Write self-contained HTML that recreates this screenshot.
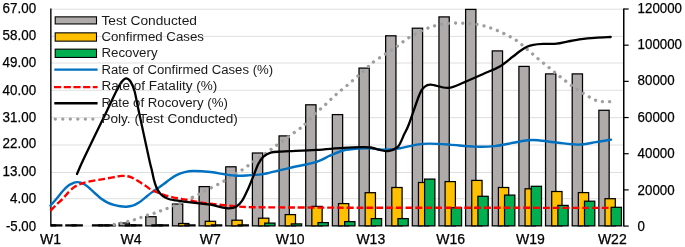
<!DOCTYPE html>
<html><head><meta charset="utf-8"><title>Chart</title>
<style>html,body{margin:0;padding:0;background:#fff}svg{display:block}</style></head>
<body>
<svg width="685" height="247" viewBox="0 0 685 247" font-family="&quot;Liberation Sans&quot;, sans-serif">
<defs><clipPath id="plot"><rect x="50.8" y="0" width="573.1" height="227.04999999999998"/></clipPath><clipPath id="plot2"><rect x="50.8" y="0" width="573.1" height="226"/></clipPath></defs>
<rect width="685" height="247" fill="#fff"/>
<line x1="50.8" y1="9.2" x2="623.9" y2="9.2" stroke="#D9D9D9" stroke-width="0.85"/>
<line x1="50.8" y1="36.4" x2="623.9" y2="36.4" stroke="#D9D9D9" stroke-width="0.85"/>
<line x1="50.8" y1="63.0" x2="623.9" y2="63.0" stroke="#D9D9D9" stroke-width="0.85"/>
<line x1="50.8" y1="90.3" x2="623.9" y2="90.3" stroke="#D9D9D9" stroke-width="0.85"/>
<line x1="50.8" y1="117.6" x2="623.9" y2="117.6" stroke="#D9D9D9" stroke-width="0.85"/>
<line x1="50.8" y1="145.0" x2="623.9" y2="145.0" stroke="#D9D9D9" stroke-width="0.85"/>
<line x1="50.8" y1="172.5" x2="623.9" y2="172.5" stroke="#D9D9D9" stroke-width="0.85"/>
<line x1="50.8" y1="198.7" x2="623.9" y2="198.7" stroke="#D9D9D9" stroke-width="0.85"/>
<line x1="50.8" y1="226.0" x2="623.9" y2="226.0" stroke="#D9D9D9" stroke-width="0.85"/>
<g clip-path="url(#plot)" stroke="#000" stroke-width="1.25">
<line x1="38.60" y1="225.4" x2="50.10" y2="225.4" stroke-width="2.2"/>
<line x1="44.75" y1="225.4" x2="56.25" y2="225.4" stroke-width="2.2"/>
<line x1="50.90" y1="225.4" x2="62.40" y2="225.4" stroke-width="2.2"/>
<line x1="65.25" y1="225.4" x2="76.75" y2="225.4" stroke-width="2.2"/>
<line x1="71.40" y1="225.4" x2="82.90" y2="225.4" stroke-width="2.2"/>
<line x1="91.90" y1="225.4" x2="103.40" y2="225.4" stroke-width="2.2"/>
<line x1="98.05" y1="225.4" x2="109.55" y2="225.4" stroke-width="2.2"/>
<line x1="104.20" y1="225.4" x2="115.70" y2="225.4" stroke-width="2.2"/>
<rect x="119.15" y="223.00" width="10.3" height="2.85" fill="#AFABAB"/>
<rect x="125.30" y="224.80" width="10.3" height="1.05" fill="#FFC000"/>
<line x1="130.85" y1="225.4" x2="142.35" y2="225.4" stroke-width="2.2"/>
<rect x="145.80" y="216.70" width="10.3" height="9.15" fill="#AFABAB"/>
<line x1="151.35" y1="225.4" x2="162.85" y2="225.4" stroke-width="2.2"/>
<line x1="157.50" y1="225.4" x2="169.00" y2="225.4" stroke-width="2.2"/>
<rect x="172.45" y="204.00" width="10.3" height="21.85" fill="#AFABAB"/>
<rect x="178.60" y="223.50" width="10.3" height="2.35" fill="#FFC000"/>
<line x1="184.15" y1="225.4" x2="195.65" y2="225.4" stroke-width="2.2"/>
<rect x="199.10" y="186.60" width="10.3" height="39.25" fill="#AFABAB"/>
<rect x="205.25" y="221.30" width="10.3" height="4.55" fill="#FFC000"/>
<line x1="210.80" y1="225.4" x2="222.30" y2="225.4" stroke-width="2.2"/>
<rect x="225.75" y="166.80" width="10.3" height="59.05" fill="#AFABAB"/>
<rect x="231.90" y="220.20" width="10.3" height="5.65" fill="#FFC000"/>
<line x1="237.45" y1="225.4" x2="248.95" y2="225.4" stroke-width="2.2"/>
<rect x="252.40" y="153.00" width="10.3" height="72.85" fill="#AFABAB"/>
<rect x="258.55" y="218.20" width="10.3" height="7.65" fill="#FFC000"/>
<rect x="264.70" y="223.10" width="10.3" height="2.75" fill="#00B050"/>
<rect x="279.05" y="135.90" width="10.3" height="89.95" fill="#AFABAB"/>
<rect x="285.20" y="214.60" width="10.3" height="11.25" fill="#FFC000"/>
<rect x="291.35" y="223.90" width="10.3" height="1.95" fill="#00B050"/>
<rect x="305.70" y="104.80" width="10.3" height="121.05" fill="#AFABAB"/>
<rect x="311.85" y="206.40" width="10.3" height="19.45" fill="#FFC000"/>
<rect x="318.00" y="222.60" width="10.3" height="3.25" fill="#00B050"/>
<rect x="332.35" y="114.60" width="10.3" height="111.25" fill="#AFABAB"/>
<rect x="338.50" y="203.60" width="10.3" height="22.25" fill="#FFC000"/>
<rect x="344.65" y="221.60" width="10.3" height="4.25" fill="#00B050"/>
<rect x="359.00" y="68.10" width="10.3" height="157.75" fill="#AFABAB"/>
<rect x="365.15" y="192.70" width="10.3" height="33.15" fill="#FFC000"/>
<rect x="371.30" y="218.60" width="10.3" height="7.25" fill="#00B050"/>
<rect x="385.65" y="35.80" width="10.3" height="190.05" fill="#AFABAB"/>
<rect x="391.80" y="187.50" width="10.3" height="38.35" fill="#FFC000"/>
<rect x="397.95" y="218.60" width="10.3" height="7.25" fill="#00B050"/>
<rect x="412.30" y="28.20" width="10.3" height="197.65" fill="#AFABAB"/>
<rect x="418.45" y="182.50" width="10.3" height="43.35" fill="#FFC000"/>
<rect x="424.60" y="179.10" width="10.3" height="46.75" fill="#00B050"/>
<rect x="438.95" y="16.90" width="10.3" height="208.95" fill="#AFABAB"/>
<rect x="445.10" y="181.60" width="10.3" height="44.25" fill="#FFC000"/>
<rect x="451.25" y="207.70" width="10.3" height="18.15" fill="#00B050"/>
<rect x="465.60" y="9.40" width="10.3" height="216.45" fill="#AFABAB"/>
<rect x="471.75" y="180.40" width="10.3" height="45.45" fill="#FFC000"/>
<rect x="477.90" y="196.30" width="10.3" height="29.55" fill="#00B050"/>
<rect x="492.25" y="50.90" width="10.3" height="174.95" fill="#AFABAB"/>
<rect x="498.40" y="187.50" width="10.3" height="38.35" fill="#FFC000"/>
<rect x="504.55" y="195.10" width="10.3" height="30.75" fill="#00B050"/>
<rect x="518.90" y="66.40" width="10.3" height="159.45" fill="#AFABAB"/>
<rect x="525.05" y="188.80" width="10.3" height="37.05" fill="#FFC000"/>
<rect x="531.20" y="186.30" width="10.3" height="39.55" fill="#00B050"/>
<rect x="545.55" y="73.90" width="10.3" height="151.95" fill="#AFABAB"/>
<rect x="551.70" y="191.50" width="10.3" height="34.35" fill="#FFC000"/>
<rect x="557.85" y="205.40" width="10.3" height="20.45" fill="#00B050"/>
<rect x="572.20" y="73.90" width="10.3" height="151.95" fill="#AFABAB"/>
<rect x="578.35" y="192.60" width="10.3" height="33.25" fill="#FFC000"/>
<rect x="584.50" y="201.20" width="10.3" height="24.65" fill="#00B050"/>
<rect x="598.85" y="110.30" width="10.3" height="115.55" fill="#AFABAB"/>
<rect x="605.00" y="198.70" width="10.3" height="27.15" fill="#FFC000"/>
<rect x="611.15" y="207.30" width="10.3" height="18.55" fill="#00B050"/>
</g>
<line x1="50.85" y1="8.5" x2="50.85" y2="226.5" stroke="#000" stroke-width="1.4"/>
<line x1="623.75" y1="8.5" x2="623.75" y2="226.6" stroke="#000" stroke-width="1.5"/>
<line x1="623.9" y1="9.00" x2="628.6999999999999" y2="9.00" stroke="#000" stroke-width="1.2"/>
<line x1="623.9" y1="45.18" x2="628.6999999999999" y2="45.18" stroke="#000" stroke-width="1.2"/>
<line x1="623.9" y1="81.36" x2="628.6999999999999" y2="81.36" stroke="#000" stroke-width="1.2"/>
<line x1="623.9" y1="117.54" x2="628.6999999999999" y2="117.54" stroke="#000" stroke-width="1.2"/>
<line x1="623.9" y1="153.72" x2="628.6999999999999" y2="153.72" stroke="#000" stroke-width="1.2"/>
<line x1="623.9" y1="189.90" x2="628.6999999999999" y2="189.90" stroke="#000" stroke-width="1.2"/>
<line x1="623.9" y1="226.08" x2="628.6999999999999" y2="226.08" stroke="#000" stroke-width="1.2"/>
<g fill="none" stroke="#9E9E9E" stroke-width="3.3" stroke-linecap="round" stroke-dasharray="0.01 7.1" clip-path="url(#plot2)"><path d="M192.40,197.50 C191.28,197.97 187.77,199.35 185.70,200.30 C183.63,201.25 181.80,202.32 180.00,203.20 C178.20,204.08 177.00,204.75 174.90,205.60 C172.80,206.45 169.77,207.43 167.40,208.30 C165.03,209.17 162.92,209.97 160.70,210.80 C158.48,211.63 156.32,212.57 154.10,213.30 C151.88,214.03 149.62,214.50 147.40,215.20 C145.18,215.90 142.88,216.77 140.80,217.50 C138.72,218.23 137.03,218.95 134.90,219.60 C132.77,220.25 130.32,220.80 128.00,221.40 C125.68,222.00 123.50,222.67 121.00,223.20 C118.50,223.73 114.33,224.37 113.00,224.60" stroke-dasharray="0.01 6.9"/><path d="M192.40,197.50 C193.55,196.93 197.13,195.25 199.30,194.10 C201.47,192.95 202.40,192.17 205.40,190.60 C208.40,189.03 214.23,186.27 217.30,184.70 C220.37,183.13 221.63,182.52 223.80,181.20 C225.97,179.88 227.20,178.72 230.30,176.80 C233.40,174.88 238.63,172.13 242.40,169.70 C246.17,167.27 249.22,164.78 252.90,162.20 C256.58,159.62 260.73,156.88 264.50,154.20 C268.27,151.52 271.73,148.83 275.50,146.10 C279.27,143.37 283.28,140.57 287.10,137.80 C290.92,135.03 295.60,131.58 298.40,129.50 C301.20,127.42 301.18,127.88 303.90,125.30 C306.62,122.72 311.13,117.43 314.70,114.00 C318.27,110.57 321.78,107.92 325.30,104.70 C328.82,101.48 332.27,97.83 335.80,94.70 C339.33,91.57 342.62,89.17 346.50,85.90 C350.38,82.63 355.33,78.45 359.10,75.10 C362.87,71.75 366.58,68.08 369.10,65.80 C371.62,63.52 371.47,63.37 374.20,61.40 C376.93,59.43 381.73,56.48 385.50,54.00 C389.27,51.52 392.92,49.22 396.80,46.50 C400.68,43.78 404.62,40.33 408.80,37.70 C412.98,35.07 417.62,32.67 421.90,30.70 C426.18,28.73 430.23,27.12 434.50,25.90 C438.77,24.68 442.90,23.87 447.50,23.40 C452.10,22.93 457.15,22.93 462.10,23.10 C467.05,23.27 472.38,23.57 477.20,24.40 C482.02,25.23 486.62,26.60 491.00,28.10 C495.38,29.60 499.32,31.38 503.50,33.40 C507.68,35.42 512.22,37.60 516.10,40.20 C519.98,42.80 523.22,45.98 526.80,49.00 C530.38,52.02 533.92,55.22 537.60,58.30 C541.28,61.38 545.17,64.45 548.90,67.50 C552.63,70.55 556.15,73.53 560.00,76.60 C563.85,79.67 568.10,83.10 572.00,85.90 C575.90,88.70 579.50,91.02 583.40,93.40 C587.30,95.78 592.27,98.82 595.40,100.20 C598.53,101.58 599.60,101.47 602.20,101.70 C604.80,101.93 609.53,101.62 611.00,101.60"/></g>
<path d="M50.50,205.50 C51.47,204.42 54.28,201.38 56.30,199.00 C58.32,196.62 60.52,193.48 62.60,191.20 C64.68,188.92 66.92,186.72 68.80,185.30 C70.68,183.88 72.50,183.23 73.90,182.70 C75.30,182.17 75.95,182.08 77.20,182.10 C78.45,182.12 79.87,182.22 81.40,182.80 C82.93,183.38 84.52,184.20 86.40,185.60 C88.28,187.00 90.22,189.00 92.70,191.20 C95.18,193.40 98.82,196.90 101.30,198.80 C103.78,200.70 105.52,201.58 107.60,202.60 C109.68,203.62 111.72,204.28 113.80,204.90 C115.88,205.52 118.00,206.00 120.10,206.30 C122.20,206.60 124.30,206.80 126.40,206.70 C128.50,206.60 130.62,206.38 132.70,205.70 C134.78,205.02 136.82,203.95 138.90,202.60 C140.98,201.25 143.10,199.27 145.20,197.60 C147.30,195.93 149.40,194.17 151.50,192.60 C153.60,191.03 155.70,189.67 157.80,188.20 C159.90,186.73 161.95,185.38 164.10,183.80 C166.25,182.22 168.55,180.20 170.70,178.70 C172.85,177.20 174.80,175.87 177.00,174.80 C179.20,173.73 181.22,172.93 183.90,172.30 C186.58,171.67 188.67,171.05 193.10,171.00 C197.53,170.95 205.05,171.42 210.50,172.00 C215.95,172.58 221.53,173.88 225.80,174.50 C230.07,175.12 232.68,175.53 236.10,175.70 C239.52,175.87 241.88,175.77 246.30,175.50 C250.72,175.23 258.53,174.62 262.60,174.10 C266.67,173.58 266.12,173.43 270.70,172.40 C275.28,171.37 282.45,169.67 290.10,167.90 C297.75,166.13 309.97,163.83 316.60,161.80 C323.23,159.77 325.47,157.58 329.90,155.70 C334.33,153.82 338.43,151.70 343.20,150.50 C347.97,149.30 353.90,148.87 358.50,148.50 C363.10,148.13 366.93,148.12 370.80,148.30 C374.67,148.48 377.17,149.55 381.70,149.60 C386.23,149.65 392.13,149.43 398.00,148.60 C403.87,147.77 411.67,145.43 416.90,144.60 C422.13,143.77 423.97,143.60 429.40,143.60 C434.83,143.60 441.97,144.10 449.50,144.60 C457.03,145.10 467.07,146.35 474.60,146.60 C482.13,146.85 488.30,146.73 494.70,146.10 C501.10,145.47 507.45,143.77 513.00,142.80 C518.55,141.83 523.83,140.72 528.00,140.30 C532.17,139.88 532.97,139.88 538.00,140.30 C543.03,140.72 551.48,142.08 558.20,142.80 C564.92,143.52 572.00,144.72 578.30,144.60 C584.60,144.48 590.55,142.93 596.00,142.10 C601.45,141.27 608.50,140.02 611.00,139.60" fill="none" stroke="#0070C0" stroke-width="2.4" stroke-linecap="round" stroke-linejoin="round"/>
<path d="M50.50,210.80 C51.42,209.83 53.98,206.97 56.00,205.00 C58.02,203.03 60.47,201.18 62.60,199.00 C64.73,196.82 66.72,193.97 68.80,191.90 C70.88,189.83 73.00,187.97 75.10,186.60 C77.20,185.23 79.30,184.50 81.40,183.70 C83.50,182.90 84.57,182.48 87.70,181.80 C90.83,181.12 96.02,180.33 100.20,179.60 C104.38,178.87 109.23,178.02 112.80,177.40 C116.37,176.78 119.10,176.08 121.60,175.90 C124.10,175.72 126.07,176.02 127.80,176.30 C129.53,176.58 130.57,176.98 132.00,177.60 C133.43,178.22 134.20,178.67 136.40,180.00 C138.60,181.33 142.68,183.93 145.20,185.60 C147.72,187.27 149.40,188.83 151.50,190.00 C153.60,191.17 155.50,191.72 157.80,192.60 C160.10,193.48 162.80,194.52 165.30,195.30 C167.80,196.08 170.18,196.72 172.80,197.30 C175.42,197.88 178.13,198.28 181.00,198.80 C183.87,199.32 186.62,199.75 190.00,200.40 C193.38,201.05 197.88,202.15 201.30,202.70 C204.72,203.25 204.70,203.08 210.50,203.70 C216.30,204.32 229.12,205.82 236.10,206.40 C243.08,206.98 245.08,207.03 252.40,207.20 C259.72,207.37 269.23,207.33 280.00,207.40 C290.77,207.47 297.00,207.53 317.00,207.60 C337.00,207.67 369.50,207.77 400.00,207.80 C430.50,207.83 465.17,207.78 500.00,207.80 C534.83,207.82 590.83,207.88 609.00,207.90" fill="none" stroke="#FF0000" stroke-width="2.4" stroke-dasharray="6.9 2.9"/>
<path d="M77.00,174.00 C78.18,171.33 79.28,168.18 84.10,158.00 C88.92,147.82 100.52,124.07 105.90,112.90 C111.28,101.73 113.72,96.23 116.40,91.00 C119.08,85.77 120.38,83.60 122.00,81.50 C123.62,79.40 124.68,78.40 126.10,78.40 C127.52,78.40 129.10,79.40 130.50,81.50 C131.90,83.60 133.23,86.58 134.50,91.00 C135.77,95.42 135.70,96.83 138.10,108.00 C140.50,119.17 146.62,147.67 148.90,158.00 C151.18,168.33 150.95,166.33 151.80,170.00 C152.65,173.67 153.22,177.08 154.00,180.00 C154.78,182.92 155.45,185.20 156.50,187.50 C157.55,189.80 158.83,192.12 160.30,193.80 C161.77,195.48 163.63,196.65 165.30,197.60 C166.97,198.55 168.62,199.03 170.30,199.50 C171.98,199.97 173.13,200.05 175.40,200.40 C177.67,200.75 179.58,201.05 183.90,201.60 C188.22,202.15 196.87,203.18 201.30,203.70 C205.73,204.22 207.10,204.08 210.50,204.70 C213.90,205.32 218.63,206.78 221.70,207.40 C224.77,208.02 226.50,208.50 228.90,208.40 C231.30,208.30 233.88,208.08 236.10,206.80 C238.32,205.52 240.17,203.77 242.20,200.70 C244.23,197.63 246.43,192.50 248.30,188.40 C250.17,184.30 251.72,180.20 253.40,176.10 C255.08,172.00 256.72,167.03 258.40,163.80 C260.08,160.57 261.45,158.57 263.50,156.70 C265.55,154.83 267.80,153.45 270.70,152.60 C273.60,151.75 277.67,151.83 280.90,151.60 C284.13,151.37 284.15,151.48 290.10,151.20 C296.05,150.92 307.75,150.45 316.60,149.90 C325.45,149.35 335.53,148.37 343.20,147.90 C350.87,147.43 358.00,147.17 362.60,147.10 C367.20,147.03 367.90,147.03 370.80,147.50 C373.70,147.97 377.13,149.30 380.00,149.90 C382.87,150.50 385.00,151.65 388.00,151.10 C391.00,150.55 395.28,149.45 398.00,146.60 C400.72,143.75 402.47,137.77 404.30,134.00 C406.13,130.23 406.48,130.55 409.00,124.00 C411.52,117.45 416.83,100.85 419.40,94.70 C421.97,88.55 422.52,88.78 424.40,87.10 C426.28,85.42 426.72,84.47 430.70,84.60 C434.68,84.73 442.65,88.32 448.30,87.90 C453.95,87.48 458.53,84.53 464.60,82.10 C470.67,79.67 478.83,75.90 484.70,73.30 C490.57,70.70 495.08,69.30 499.80,66.50 C504.52,63.70 509.55,59.12 513.00,56.50 C516.45,53.88 518.17,52.42 520.50,50.80 C522.83,49.18 524.87,47.80 527.00,46.80 C529.13,45.80 530.58,45.28 533.30,44.80 C536.02,44.32 539.42,44.08 543.30,43.90 C547.18,43.72 552.45,44.12 556.60,43.70 C560.75,43.28 564.05,42.17 568.20,41.40 C572.35,40.63 577.05,39.70 581.50,39.10 C585.95,38.50 590.03,38.15 594.90,37.80 C599.77,37.45 608.07,37.13 610.70,37.00" fill="none" stroke="#000" stroke-width="2.3" stroke-linecap="round" stroke-linejoin="round"/>
<text x="36.1" y="12.70" font-size="14.0" text-anchor="end" fill="#000" textLength="33.5" lengthAdjust="spacingAndGlyphs" stroke="#000" stroke-width="0.25">67.00</text>
<text x="36.1" y="39.80" font-size="14.0" text-anchor="end" fill="#000" textLength="33.5" lengthAdjust="spacingAndGlyphs" stroke="#000" stroke-width="0.25">58.00</text>
<text x="36.1" y="67.40" font-size="14.0" text-anchor="end" fill="#000" textLength="33.5" lengthAdjust="spacingAndGlyphs" stroke="#000" stroke-width="0.25">49.00</text>
<text x="36.1" y="94.80" font-size="14.0" text-anchor="end" fill="#000" textLength="33.5" lengthAdjust="spacingAndGlyphs" stroke="#000" stroke-width="0.25">40.00</text>
<text x="36.1" y="122.10" font-size="14.0" text-anchor="end" fill="#000" textLength="33.5" lengthAdjust="spacingAndGlyphs" stroke="#000" stroke-width="0.25">31.00</text>
<text x="36.1" y="148.40" font-size="14.0" text-anchor="end" fill="#000" textLength="33.5" lengthAdjust="spacingAndGlyphs" stroke="#000" stroke-width="0.25">22.00</text>
<text x="36.1" y="176.00" font-size="14.0" text-anchor="end" fill="#000" textLength="33.5" lengthAdjust="spacingAndGlyphs" stroke="#000" stroke-width="0.25">13.00</text>
<text x="36.1" y="203.30" font-size="14.0" text-anchor="end" fill="#000" textLength="26.0" lengthAdjust="spacingAndGlyphs" stroke="#000" stroke-width="0.25">4.00</text>
<text x="36.1" y="230.80" font-size="14.0" text-anchor="end" fill="#000" textLength="30.2" lengthAdjust="spacingAndGlyphs" stroke="#000" stroke-width="0.25">-5.00</text>
<text x="637.6" y="13.00" font-size="14.0" text-anchor="start" fill="#000" textLength="44.4" lengthAdjust="spacingAndGlyphs" stroke="#000" stroke-width="0.25">120000</text>
<text x="637.6" y="48.70" font-size="14.0" text-anchor="start" fill="#000" textLength="44.4" lengthAdjust="spacingAndGlyphs" stroke="#000" stroke-width="0.25">100000</text>
<text x="637.6" y="84.80" font-size="14.0" text-anchor="start" fill="#000" textLength="37.0" lengthAdjust="spacingAndGlyphs" stroke="#000" stroke-width="0.25">80000</text>
<text x="637.6" y="122.40" font-size="14.0" text-anchor="start" fill="#000" textLength="37.0" lengthAdjust="spacingAndGlyphs" stroke="#000" stroke-width="0.25">60000</text>
<text x="637.6" y="158.40" font-size="14.0" text-anchor="start" fill="#000" textLength="37.0" lengthAdjust="spacingAndGlyphs" stroke="#000" stroke-width="0.25">40000</text>
<text x="637.6" y="194.60" font-size="14.0" text-anchor="start" fill="#000" textLength="37.0" lengthAdjust="spacingAndGlyphs" stroke="#000" stroke-width="0.25">20000</text>
<text x="637.6" y="231.00" font-size="14.0" text-anchor="start" fill="#000" textLength="7.4" lengthAdjust="spacingAndGlyphs" stroke="#000" stroke-width="0.25">0</text>
<text x="50.50" y="244.1" font-size="14.0" text-anchor="middle" fill="#000" stroke="#000" stroke-width="0.25">W1</text>
<text x="131.00" y="244.1" font-size="14.0" text-anchor="middle" fill="#000" stroke="#000" stroke-width="0.25">W4</text>
<text x="210.30" y="244.1" font-size="14.0" text-anchor="middle" fill="#000" stroke="#000" stroke-width="0.25">W7</text>
<text x="290.20" y="244.1" font-size="14.0" text-anchor="middle" fill="#000" stroke="#000" stroke-width="0.25">W10</text>
<text x="370.80" y="244.1" font-size="14.0" text-anchor="middle" fill="#000" stroke="#000" stroke-width="0.25">W13</text>
<text x="450.70" y="244.1" font-size="14.0" text-anchor="middle" fill="#000" stroke="#000" stroke-width="0.25">W16</text>
<text x="530.40" y="244.1" font-size="14.0" text-anchor="middle" fill="#000" stroke="#000" stroke-width="0.25">W19</text>
<text x="612.30" y="244.1" font-size="14.0" text-anchor="middle" fill="#000" stroke="#000" stroke-width="0.25">W22</text>
<text x="101.4" y="24.50" font-size="12.3" text-anchor="start" fill="#1a1a1a" textLength="95.6" lengthAdjust="spacingAndGlyphs">Test Conducted</text>
<rect x="55.2" y="16.85" width="41.3" height="7.10" fill="#AFABAB" stroke="#000" stroke-width="1.1"/>
<text x="101.4" y="40.95" font-size="12.3" text-anchor="start" fill="#1a1a1a" textLength="102.6" lengthAdjust="spacingAndGlyphs">Confirmed Cases</text>
<rect x="55.2" y="32.85" width="41.3" height="8.30" fill="#FFC000" stroke="#000" stroke-width="1.1"/>
<text x="101.4" y="57.40" font-size="12.3" text-anchor="start" fill="#1a1a1a" textLength="56.2" lengthAdjust="spacingAndGlyphs">Recovery</text>
<rect x="55.2" y="49.15" width="41.3" height="8.30" fill="#00B050" stroke="#000" stroke-width="1.1"/>
<text x="101.4" y="73.60" font-size="12.3" text-anchor="start" fill="#1a1a1a" textLength="171.7" lengthAdjust="spacingAndGlyphs">Rate of Confirmed Cases (%)</text>
<line x1="54.3" y1="69.6" x2="97.6" y2="69.6" stroke="#0070C0" stroke-width="2.3"/>
<text x="101.4" y="90.05" font-size="12.3" text-anchor="start" fill="#1a1a1a" textLength="115.9" lengthAdjust="spacingAndGlyphs">Rate of Fatality (%)</text>
<line x1="54.0" y1="87.2" x2="97.6" y2="87.2" stroke="#FF0000" stroke-width="2.3" stroke-dasharray="7.2 2.5"/>
<text x="101.4" y="106.50" font-size="12.3" text-anchor="start" fill="#1a1a1a" textLength="126.5" lengthAdjust="spacingAndGlyphs">Rate of Rocovery (%)</text>
<line x1="54.3" y1="103.2" x2="97.6" y2="103.2" stroke="#000" stroke-width="2.5"/>
<text x="101.4" y="122.95" font-size="12.3" text-anchor="start" fill="#1a1a1a" textLength="136.5" lengthAdjust="spacingAndGlyphs">Poly. (Test Conducted)</text>
<line x1="55.3" y1="119.1" x2="97" y2="119.1" stroke="#9E9E9E" stroke-width="3.3" stroke-linecap="round" stroke-dasharray="0.01 7.5"/>
</svg>
</body></html>
